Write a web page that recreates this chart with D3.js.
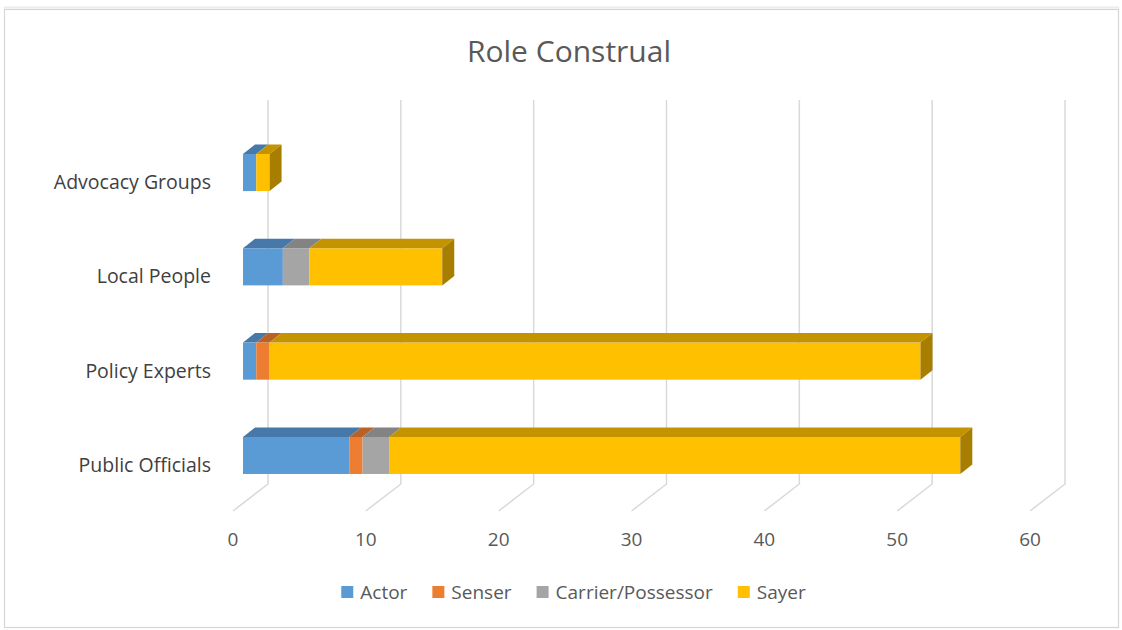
<!DOCTYPE html>
<html>
<head>
<meta charset="utf-8">
<script src="https://cdn.jsdelivr.net/npm/d3@7"></script>
<style>
  body { margin: 0; background: #fff; }
  text { font-family: "Open Sans", "Noto Sans", sans-serif; }
</style>
</head>
<body>
<div id="chart"></div>
<script>
// chart data
var categories = ["Advocacy Groups", "Local People", "Policy Experts", "Public Officials"];
var seriesNames = ["Actor", "Senser", "Carrier/Possessor", "Sayer"];
var actor   = [1, 3, 1, 8];
var senser  = [0, 0, 1, 1];
var carrier = [0, 2, 0, 2];
var sayer   = [1, 10, 49, 43];
var tickValues = [0, 10, 20, 30, 40, 50, 60];

var frontColors = ["#5B9BD5", "#ED7D31", "#A5A5A5", "#FFC000"];
var topColors   = ["#4679AA", "#BA6225", "#838383", "#C49300"];
var sideColors  = ["#3E6C98", "#A55720", "#747474", "#A87E00"];

var W = 1122, H = 630;

var svg = d3.select("#chart")
  .append("svg")
    .attr("width", W)
    .attr("height", H);

// outer frame
svg.append("rect")
  .attr("x", 4.5).attr("y", 9.5)
  .attr("width", 1114).attr("height", 618)
  .attr("fill", "#fff")
  .attr("stroke", "#d6d6d6")
  .attr("stroke-width", 1.2);
svg.append("line")
  .attr("x1", 4).attr("x2", 1119)
  .attr("y1", 7.5).attr("y2", 7.5)
  .attr("stroke", "#ececec").attr("stroke-width", 2);

// title
svg.append("text")
  .attr("x", 569).attr("y", 50)
  .attr("text-anchor", "middle")
  .attr("dominant-baseline", "central")
  .style("font-size", "30px")
  .style("fill", "#595959")
  .text("Role Construal");

// 3d geometry: depth offsets
var floorFrontX = 233, barFaceX = 243, backWallX = 268;
var backFloorY = 484, frontFloorY = 511;
var depthX = 12, depthY = -9.5;  // bar top/side offset

var x = d3.scaleLinear()
  .domain([0, 60])
  .range([0, 797]);

var y = d3.scaleBand()
  .domain(categories)
  .range([125.4, 502.6])
  .paddingInner(0.607)
  .paddingOuter(0.3035);

// back wall gridlines + floor diagonals
var grid = svg.append("g");
tickValues.forEach(function(v) {
  var bx = backWallX + x(v);
  var fx = floorFrontX + x(v);
  grid.append("path")
    .attr("d", "M" + bx + ",100 L" + bx + "," + backFloorY + " L" + fx + "," + frontFloorY)
    .attr("fill", "none")
    .attr("stroke", "#d9d9d9")
    .attr("stroke-width", 1.5);
});

// tick labels
svg.append("g").selectAll("text")
  .data(tickValues)
  .enter().append("text")
    .attr("x", function(d) { return floorFrontX + x(d); })
    .attr("y", 539)
    .attr("text-anchor", "middle")
    .attr("dominant-baseline", "central")
    .style("font-size", "19px")
    .style("fill", "#595959")
    .text(function(d) { return d; });

// category labels
svg.append("g").selectAll("text")
  .data(categories)
  .enter().append("text")
    .attr("x", 211)
    .attr("y", function(d) { return y(d) + y.bandwidth() / 2 + 9; })
    .attr("text-anchor", "end")
    .attr("dominant-baseline", "central")
    .style("font-size", "19.5px")
    .style("fill", "#404040")
    .text(function(d) { return d; });

// stacked 3d bars
var rows = categories.map(function(c, i) {
  return { cat: c, vals: [actor[i], senser[i], carrier[i], sayer[i]] };
});

var bars = svg.append("g");
rows.forEach(function(r) {
  var y0 = y(r.cat), bh = y.bandwidth();
  var cum = 0, last = -1;
  r.vals.forEach(function(v, s) {
    if (v <= 0) return;
    var xa = barFaceX + x(cum), xb = barFaceX + x(cum + v);
    // front face
    bars.append("rect")
      .attr("x", xa).attr("y", y0)
      .attr("width", xb - xa).attr("height", bh)
      .attr("fill", frontColors[s]);
    // top face
    bars.append("path")
      .attr("d", "M" + xa + "," + y0 + " L" + (xa + depthX) + "," + (y0 + depthY) +
                 " L" + (xb + depthX) + "," + (y0 + depthY) + " L" + xb + "," + y0 + "Z")
      .attr("fill", topColors[s]);
    cum += v;
    last = s;
  });
  if (last >= 0) {
    var xe = barFaceX + x(cum);
    bars.append("path")
      .attr("d", "M" + xe + "," + y0 + " L" + (xe + depthX) + "," + (y0 + depthY) +
                 " L" + (xe + depthX) + "," + (y0 + depthY + bh) + " L" + xe + "," + (y0 + bh) + "Z")
      .attr("fill", sideColors[last]);
  }
});

// legend
var legend = svg.append("g");
var lx = 0;
seriesNames.forEach(function(name, i) {
  var g = legend.append("g").attr("transform", "translate(" + lx + ",0)");
  g.append("rect")
    .attr("x", 0).attr("y", -6)
    .attr("width", 12).attr("height", 12)
    .attr("fill", frontColors[i]);
  var t = g.append("text")
    .attr("x", 19).attr("y", 0)
    .attr("dominant-baseline", "central")
    .style("font-size", "19px")
    .style("fill", "#595959")
    .text(name);
  lx += 19 + t.node().getComputedTextLength() + 25;
});
var legendWidth = lx - 25;
legend.attr("transform", "translate(" + (573.5 - legendWidth / 2) + ",592)");
</script>
</body>
</html>
